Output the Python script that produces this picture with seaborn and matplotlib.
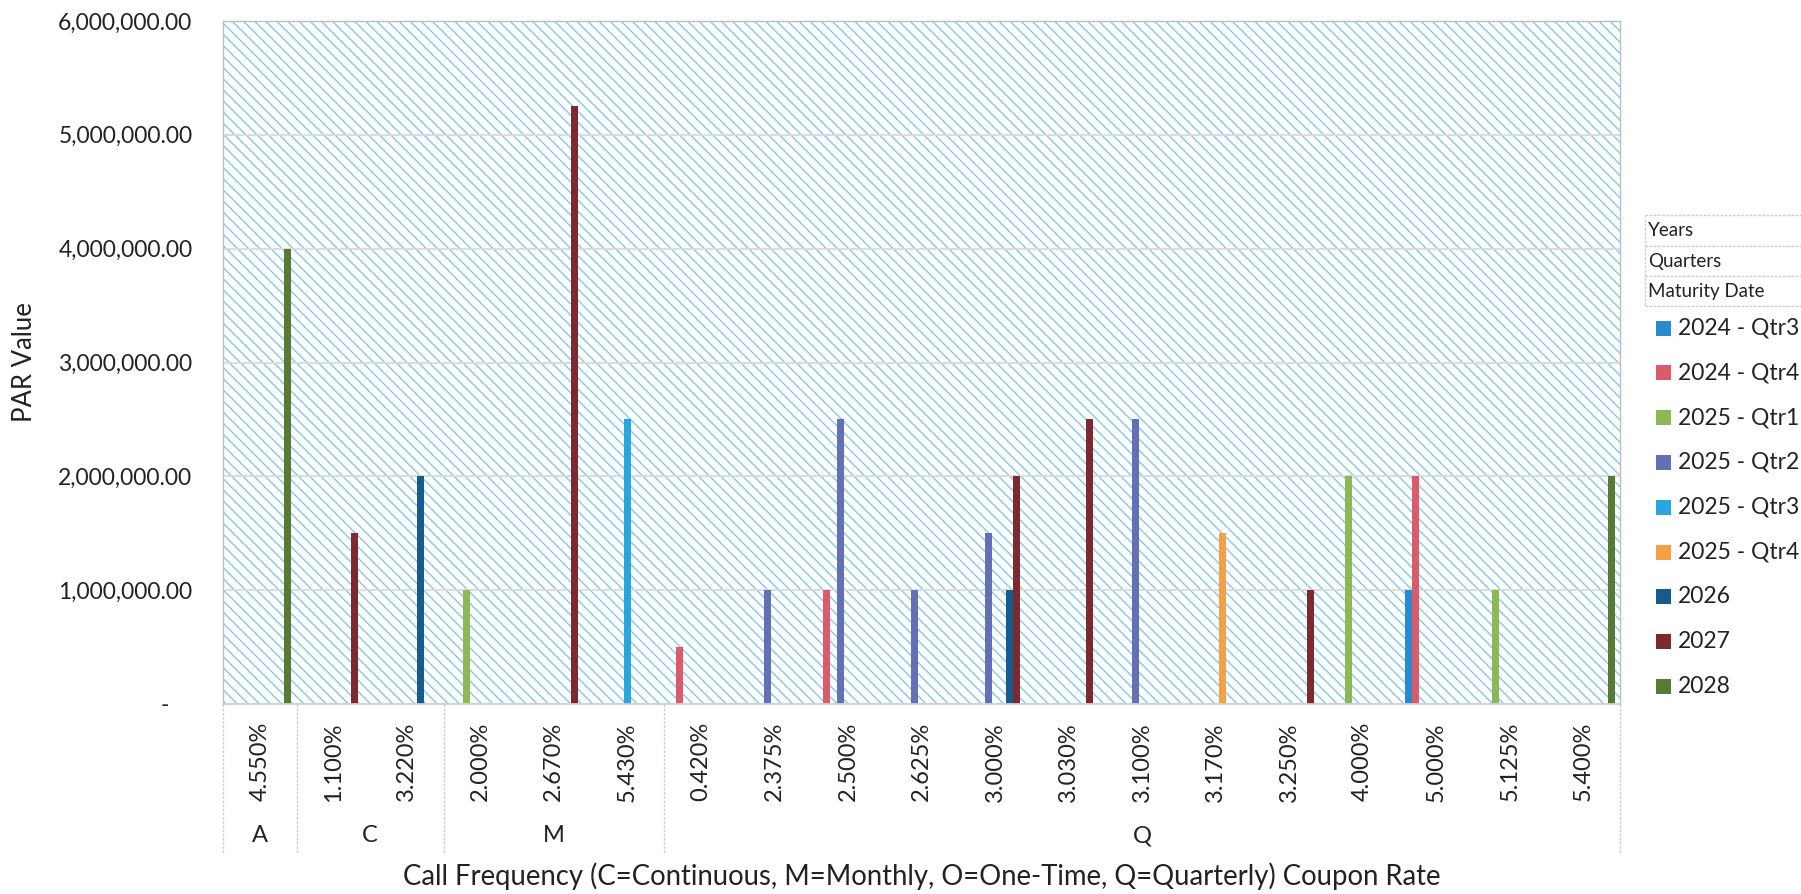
import matplotlib
matplotlib.use("Agg")
import matplotlib.pyplot as plt
from matplotlib.patches import Rectangle
from matplotlib.lines import Line2D
import matplotlib.transforms as mtransforms
import seaborn as sns
import pandas as pd

# ---- data -------------------------------------------------------------
coupon_rates = ["4.550%", "1.100%", "3.220%", "2.000%", "2.670%", "5.430%",
                "0.420%", "2.375%", "2.500%", "2.625%", "3.000%", "3.030%",
                "3.100%", "3.170%", "3.250%", "4.000%", "5.000%", "5.125%",
                "5.400%"]
call_groups = ["A", "C", "M", "Q"]
group_sizes = [1, 2, 3, 13]

maturity_levels = ["2024 - Qtr3", "2024 - Qtr4", "2025 - Qtr1", "2025 - Qtr2",
                   "2025 - Qtr3", "2025 - Qtr4", "2026", "2027", "2028"]
maturity_colors = ["#2A8AD0", "#DB5A6C", "#8DB955", "#6470B6", "#2AA6DE",
                   "#F4A046", "#175B8C", "#7C2A30", "#587A34"]

bar_coupon = ["4.550%", "1.100%", "3.220%", "2.000%", "2.670%", "5.430%",
              "0.420%", "2.375%", "2.500%", "2.500%", "2.625%", "3.000%",
              "3.000%", "3.000%", "3.030%", "3.100%", "3.170%", "3.250%",
              "4.000%", "5.000%", "5.000%", "5.125%", "5.400%"]
bar_maturity = ["2028", "2027", "2026", "2025 - Qtr1", "2027", "2025 - Qtr3",
                "2024 - Qtr4", "2025 - Qtr2", "2024 - Qtr4", "2025 - Qtr2",
                "2025 - Qtr2", "2025 - Qtr2", "2026", "2027", "2027",
                "2025 - Qtr2", "2025 - Qtr4", "2027", "2025 - Qtr1",
                "2024 - Qtr3", "2024 - Qtr4", "2025 - Qtr1", "2028"]
bar_par = [4000000, 1500000, 2000000, 1000000, 5250000, 2500000,
           500000, 1000000, 1000000, 2500000, 1000000, 1500000,
           1000000, 2000000, 2500000, 2500000, 1500000, 1000000,
           2000000, 1000000, 2000000, 1000000, 2000000]

y_ticks = [0, 1000000, 2000000, 3000000, 4000000, 5000000, 6000000]

df = pd.DataFrame({"Coupon Rate": bar_coupon,
                   "PAR Value": bar_par,
                   "Maturity Date": bar_maturity})

# ---- figure -----------------------------------------------------------
sns.set_style("white")
plt.rcParams["font.family"] = ["Lato", "DejaVu Sans"]
plt.rcParams["hatch.linewidth"] = 0.95

W, H = 1801, 894
fig = plt.figure(figsize=(W / 100, H / 100), dpi=100)

def fx(px):
    return px / W

def fy(py):
    return 1 - py / H

ax_l, ax_r, ax_t, ax_b = 223, 1620, 21, 704
ax = fig.add_axes([fx(ax_l), fy(ax_b), fx(ax_r - ax_l), (ax_b - ax_t) / H])
ax_h = ax_b - ax_t

# hatched plot-area fill
ax.patch.set_visible(False)
ax.add_patch(Rectangle((0, 0), 1, 1, transform=ax.transAxes,
                       facecolor="white", edgecolor="#7DC7EC",
                       hatch="\\\\\\", linewidth=0, zorder=0))

sns.barplot(data=df, x="Coupon Rate", y="PAR Value", hue="Maturity Date",
            order=coupon_rates, hue_order=maturity_levels,
            palette=maturity_colors, saturation=1, width=9 / 10.5,
            dodge=True, linewidth=0, legend=False, ax=ax, zorder=2)

ax.set_xlim(-0.5, len(coupon_rates) - 0.5)
ax.set_ylim(0, 6000000)
ax.set_yticks(y_ticks)
ax.set_yticklabels([f"{v:,.2f}" if v else "-    " for v in y_ticks])
ax.tick_params(axis="y", length=0, pad=22, labelsize=16.5, labelcolor="#222222")
ax.tick_params(axis="x", length=0, pad=13, labelsize=17, labelcolor="#222222",
               labelrotation=90)

ax.set_axisbelow(True)
ax.yaxis.grid(True, color="#DADADA", linewidth=1.3, zorder=1)
ax.xaxis.grid(False)
for side in ["top", "right", "left"]:
    ax.spines[side].set_color("#BDBDBD")
    ax.spines[side].set_linewidth(1.0)
ax.spines["bottom"].set_color("#D0D0D0")
ax.spines["bottom"].set_linewidth(1.3)

# axis titles
ax.set_ylabel("PAR Value", fontsize=18.5, color="#222222")
ax.yaxis.set_label_coords((25 - ax_l) / (ax_r - ax_l), 0.5)
ax.yaxis.label.set_va("center")
ax.set_xlabel("Call Frequency (C=Continuous, M=Monthly, O=One-Time, "
              "Q=Quarterly) Coupon Rate", fontsize=19.8, color="#222222")
ax.xaxis.set_label_coords(0.5, (ax_b - 876) / ax_h)
ax.xaxis.label.set_va("center")

# call-frequency group labels and dividers below the category axis
trans = mtransforms.blended_transform_factory(ax.transData, ax.transAxes)
edges = [-0.5]
for n in group_sizes:
    edges.append(edges[-1] + n)
line_bottom = (ax_b - 853) / ax_h
for e in edges:
    ax.add_line(Line2D([e, e], [0, line_bottom], transform=trans,
                       color="#CFCFCF", linewidth=1.0,
                       linestyle=(0, (2, 1)), clip_on=False))
label_y = (ax_b - 836) / ax_h
for g, a, b in zip(call_groups, edges[:-1], edges[1:]):
    ax.text((a + b) / 2, label_y, g, transform=trans, ha="center",
            va="center", fontsize=17, color="#222222")

# legend: field header box
hdr_left = 1645
hdr_lines = [215, 246, 276, 306]
for yy in hdr_lines:
    fig.add_artist(Line2D([fx(hdr_left), 1.0], [fy(yy), fy(yy)],
                          transform=fig.transFigure, color="#CFCFCF",
                          linewidth=1.0, linestyle=(0, (2, 1))))
fig.add_artist(Line2D([fx(hdr_left), fx(hdr_left)],
                      [fy(hdr_lines[0]), fy(hdr_lines[-1])],
                      transform=fig.transFigure, color="#CFCFCF",
                      linewidth=1.0, linestyle=(0, (2, 1))))
for txt, a, b in zip(["Years", "Quarters", "Maturity Date"],
                     hdr_lines[:-1], hdr_lines[1:]):
    fig.text(fx(hdr_left + 3), fy((a + b) / 2), txt, ha="left", va="center",
             fontsize=13.5, color="#222222")

# legend: series entries
entry_y0, entry_dy = 328, 44.8
for i, (lab, col) in enumerate(zip(maturity_levels, maturity_colors)):
    yc = entry_y0 + i * entry_dy
    fig.add_artist(Rectangle((fx(1656), fy(yc + 7.5)), fx(15), 15 / H,
                             transform=fig.transFigure, facecolor=col,
                             edgecolor="none"))
    fig.text(fx(1678), fy(yc), lab, ha="left", va="center",
             fontsize=16.5, color="#222222")

fig.savefig("out.png", dpi=100)
